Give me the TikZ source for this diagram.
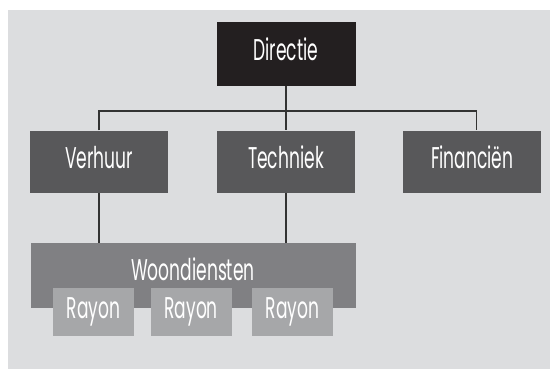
\documentclass[tikz,border=0pt]{standalone}
\usepackage{fontspec}
\setmainfont{Poppins}[FakeStretch=0.57]
\definecolor{panelgray}{HTML}{DCDDDF}
\definecolor{topbox}{HTML}{231F20}
\definecolor{deptbox}{HTML}{58585A}
\definecolor{unitbox}{HTML}{808083}
\definecolor{rayonbox}{HTML}{A6A7A9}
\definecolor{wire}{HTML}{333333}
\begin{document}
\begin{tikzpicture}[x=1pt,y=-1pt,
  orgbox/.style={rectangle, inner sep=0pt, text=white,
    font=\fontsize{30}{30}\selectfont, text height=20pt, text depth=6pt},
  topunit/.style={orgbox, fill=topbox, minimum width=139pt, minimum height=64pt},
  dept/.style={orgbox, fill=deptbox, minimum width=138pt, minimum height=62pt},
  service/.style={orgbox, fill=unitbox, minimum width=325pt, minimum height=64.5pt, text depth=11pt},
  rayon/.style={orgbox, fill=rayonbox, minimum width=81pt, minimum height=48pt, text depth=7pt},
  conn/.style={draw=wire, line width=1.3pt}]
  \useasboundingbox (0,0) rectangle (550,369);
  \fill[panelgray] (8,10) rectangle (550,369);

  % boxes
  \node[topunit] (dir) at (286,54) {Directie};
  \node[dept] (verh) at (99,161.7) {Verhuur};
  \node[dept] (tech) at (286,161.7) {Techniek};
  \node[dept] (fin) at (472.3,161.7) {Financiën};

  % connectors
  \coordinate (bus) at (286,111);
  \draw[conn] (dir.south) -- (tech.north);
  \draw[conn] (verh.north) |- (bus) -| ([xshift=4.4pt]fin.north);

  \node[service] (wd) at (193,275.5) {Woondiensten};
  \draw[conn] (verh.south) -- (verh.south |- wd.north);
  \draw[conn] (tech.south) -- (tech.south |- wd.north);

  \node[rayon] (r1) at (93.5,311.5) {Rayon};
  \node[rayon] (r2) at (191.2,311.5) {Rayon};
  \node[rayon] (r3) at (292.7,311.5) {Rayon};
\end{tikzpicture}
\end{document}
